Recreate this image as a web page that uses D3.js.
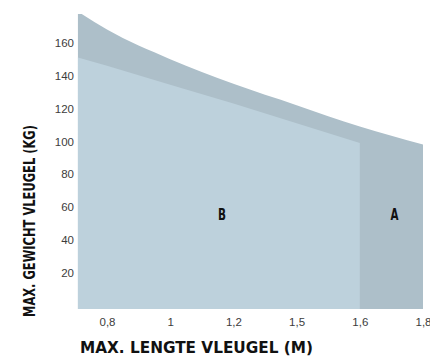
<!DOCTYPE html>
<html>
<head>
<meta charset="utf-8">
<script src="https://cdn.jsdelivr.net/npm/d3@7"></script>
<style>
  html, body { margin: 0; padding: 0; background: #fff; }
  svg { display: block; }
</style>
</head>
<body>
<div id="chart"></div>
<script>
// x categories (equally spaced, not proportional)
const xLabels = ["0,8", "1", "1,2", "1,5", "1,6", "1,8"];
const yTicks = [20, 40, 60, 80, 100, 120, 140, 160, 180];

// zone A (outer envelope) - position in category steps, max weight in kg
const outerPos = [-0.46, 0, 1, 2, 3, 4, 5];
const outerKg = [179, 168, 150, 135, 122, 109, 98];

// zone B (inner), stops at 1,6
const innerPos = [-0.46, 0, 1, 2, 3, 4];
const innerKg = [151, 146, 134.5, 123, 111, 99];

const zoneLabels = [
  { name: "B", pos: 1.82 },
  { name: "A", pos: 4.55 }
];

const W = 430, H = 361;
const plotTop = 14, plotBottom = 309;
const titleFont = "'DejaVu Sans Condensed', 'DejaVu Sans', sans-serif";
const tickFont = "11.5px 'Liberation Sans', Arial, sans-serif";

const svg = d3.select("#chart").append("svg")
  .attr("width", W)
  .attr("height", H);

const x = d3.scaleLinear().domain([0, 5]).range([107, 423]);
const y = d3.scaleLinear().domain([0, 180]).range([305.6, 9.9]);

svg.append("clipPath").attr("id", "clip")
  .append("rect")
  .attr("x", 0).attr("y", plotTop)
  .attr("width", W).attr("height", H - plotTop);

const g = svg.append("g").attr("clip-path", "url(#clip)");

const outer = outerPos.map((p, i) => ({ p, v: outerKg[i] }));
const inner = innerPos.map((p, i) => ({ p, v: innerKg[i] }));

const area = d3.area()
  .x(d => x(d.p))
  .y0(plotBottom)
  .y1(d => y(d.v))
  .curve(d3.curveMonotoneX);

g.append("path")
  .datum(outer)
  .attr("d", area)
  .attr("fill", "#adbfc9");

g.append("path")
  .datum(inner)
  .attr("d", area.curve(d3.curveLinear))
  .attr("fill", "#bdd1dc");

// y axis labels (180 is cut off by the top edge)
const yAxis = g.append("g")
  .attr("transform", `translate(${x(-0.46)},0)`)
  .call(d3.axisLeft(y).tickValues(yTicks).tickSize(0).tickPadding(4));
yAxis.select(".domain").remove();
yAxis.selectAll("text")
  .attr("fill", "#3c3c3c")
  .style("font", tickFont);

// x axis labels
const xAxis = svg.append("g")
  .attr("transform", `translate(0,${plotBottom})`)
  .call(d3.axisBottom(x).tickValues(d3.range(xLabels.length))
    .tickFormat(i => xLabels[i]).tickSize(0).tickPadding(9));
xAxis.select(".domain").remove();
xAxis.selectAll("text")
  .attr("fill", "#3c3c3c")
  .style("font", tickFont);

// zone letters
svg.append("g")
  .selectAll("text")
  .data(zoneLabels)
  .join("text")
  .attr("x", d => x(d.pos))
  .attr("y", y(52))
  .attr("text-anchor", "middle")
  .attr("textLength", 8)
  .attr("lengthAdjust", "spacingAndGlyphs")
  .attr("fill", "#111")
  .style("font", `bold 15px ${titleFont}`)
  .text(d => d.name);

// axis titles
svg.append("text")
  .attr("x", 80)
  .attr("y", 353)
  .attr("textLength", 233)
  .attr("lengthAdjust", "spacingAndGlyphs")
  .attr("fill", "#111")
  .style("font", `bold 16.5px ${titleFont}`)
  .text("MAX. LENGTE VLEUGEL (M)");

svg.append("text")
  .attr("transform", "translate(35,317) rotate(-90)")
  .attr("textLength", 192)
  .attr("lengthAdjust", "spacingAndGlyphs")
  .attr("fill", "#111")
  .style("font", `bold 15.5px ${titleFont}`)
  .text("MAX. GEWICHT VLEUGEL (KG)");
</script>
</body>
</html>
